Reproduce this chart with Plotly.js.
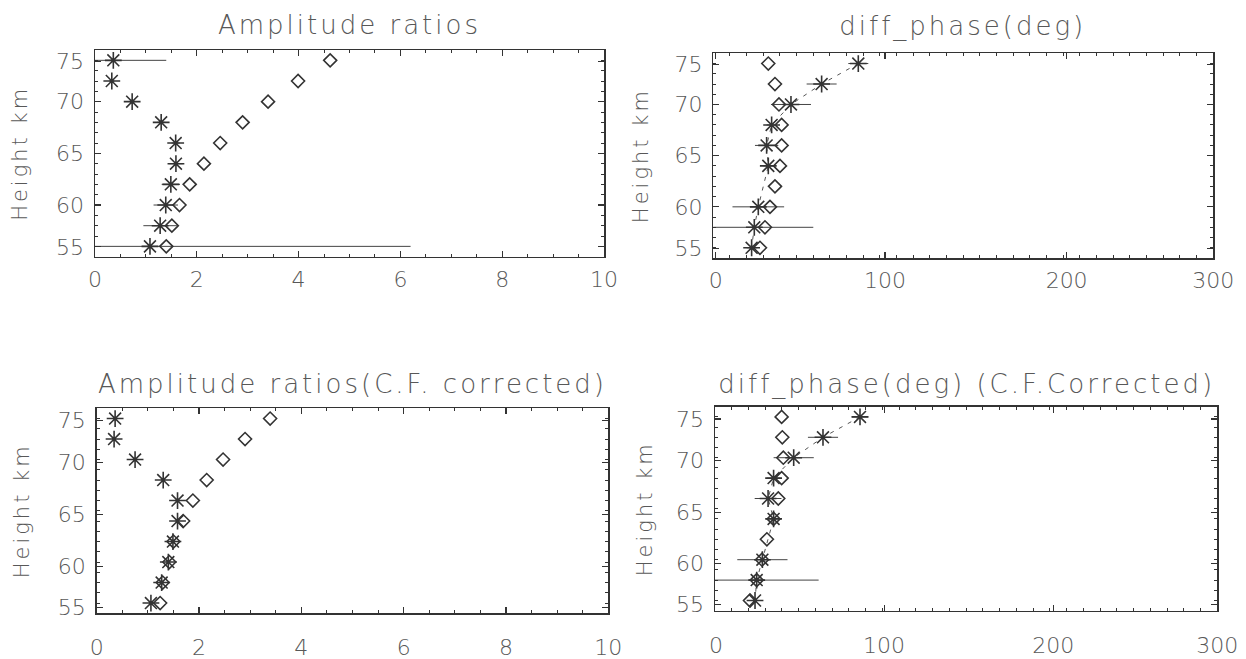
<!DOCTYPE html>
<html>
<head>
<meta charset="utf-8">
<script src="https://cdn.plot.ly/plotly-3.0.1.min.js"></script>
<style>
  html, body { margin: 0; padding: 0; background: #fff; }
  #chart { width: 1246px; height: 659px; }
</style>
</head>
<body>
<div id="chart"></div>
<script>
// ---------------- data ----------------
const heights = [74, 72, 70, 68, 66, 64, 62, 60, 58, 56];

// Amplitude ratios
const ampStar      = [0.36, 0.33, 0.73, 1.30, 1.585, 1.59, 1.49, 1.39, 1.28, 1.08];
const ampStarErr   = [1.04, 0.05, 0.05, 0.08, 0.08, 0.13, 0.18, 0.24, 0.33, 5.12];
const ampDiamond   = [4.62, 3.99, 3.40, 2.90, 2.46, 2.14, 1.86, 1.66, 1.51, 1.40];

// Amplitude ratios (C.F. corrected)
const ampCFStar    = [0.36, 0.34, 0.75, 1.30, 1.58, 1.58, 1.49, 1.40, 1.27, 1.06];
const ampCFDiamond = [3.39, 2.90, 2.47, 2.15, 1.88, 1.69, 1.50, 1.42, 1.29, 1.24];

// diff_phase(deg)
const phaseStar      = [87.0, 65.0, 46.6, 35.0, 32.0, 33.0, null, 27.0, 24.6, 23.0];
const phaseStarErr   = [6, 9, 12, 3, 7, 3, 0, 15.5, 35.4, 3];
const phaseDiamond   = [33.0, 37.0, 39.4, 41.0, 41.0, 40.0, 37.0, 34.0, 31.0, 28.0];

// diff_phase(deg) (C.F.Corrected)
const phaseCFStar    = [86.6, 64.5, 47.0, 35.0, 31.7, 35.0, null, 28.3, 24.9, 23.9];
const phaseCFStarErr = [5, 9, 12, 4, 8, 3, 0, 15, 37, 4];
const phaseCFDiamond = [39.8, 40.2, 40.8, 39.8, 37.8, 35.0, 31.0, 28.1, 24.9, 20.9];

// text
const panelTitles = ['Amplitude ratios', 'diff_phase(deg)',
                     'Amplitude ratios(C.F. corrected)', 'diff_phase(deg) (C.F.Corrected)'];
const yAxisTitle = 'Height km';

// tick labels
const yTickText      = ['55', '60', '65', '70', '75'];
const yTickPosTop    = [55.95, 60, 65, 70, 73.9];
const yTickPosBottom = [55.6, 59.6, 64.65, 69.75, 73.8];
const ampTickText    = ['0', '2', '4', '6', '8', '10'];
const ampTickPos     = [0, 2, 4, 6, 8, 10];
const phaseTickText  = ['0', '100', '200', '300'];
const phaseTickPosTop    = [1.5, 103, 212, 300];
const phaseTickPosBottom = [0.6, 101, 202, 300];

// ---------------- layout helpers ----------------
const W = 1246, H = 659;
const FONT = 'DejaVu Sans, Liberation Sans, sans-serif';
const TXT = '#585858';
const INK = '#333333';

function xdom(l, r) { return [l / W, r / W]; }
function ydom(t, b) { return [1 - b / H, 1 - t / H]; }

const boxes = [
  {l: 95,    r: 604,    t: 50,    b: 256.7},
  {l: 713.3, r: 1213.3, t: 53.3,  b: 258},
  {l: 96.7,  r: 608.3,  t: 408.3, b: 613.3},
  {l: 715,   r: 1217.3, t: 406.7, b: 610.7}
];

function xAxis(i, range, tickvals, ticktext, minorDtick, standoff) {
  const b = boxes[i];
  return {
    domain: xdom(b.l, b.r), range: range, anchor: 'y' + (i ? i + 1 : ''),
    tickmode: 'array', tickvals: tickvals, ticktext: ticktext,
    ticks: 'inside', ticklen: 6, tickwidth: 1.2, tickcolor: INK,
    minor: {ticks: 'inside', ticklen: 3, tickwidth: 1, tickcolor: INK, tickmode: 'linear', tick0: 0, dtick: minorDtick},
    showline: true, linecolor: INK, linewidth: 1.5, mirror: 'allticks',
    showgrid: false, zeroline: false, fixedrange: true,
    ticklabelstandoff: standoff,
    tickfont: {family: FONT, size: 22, color: TXT, weight: 200}
  };
}
function yAxis(i, tickvals) {
  const b = boxes[i];
  return {
    domain: ydom(b.t, b.b), range: [55, 75], anchor: 'x' + (i ? i + 1 : ''),
    tickmode: 'array', tickvals: tickvals, ticktext: yTickText,
    ticks: 'inside', ticklen: 6, tickwidth: 1.2, tickcolor: INK,
    minor: {ticks: 'inside', ticklen: 3, tickwidth: 1, tickcolor: INK, tickmode: 'linear', tick0: 55, dtick: 1},
    showline: true, linecolor: INK, linewidth: 1.5, mirror: 'allticks',
    showgrid: false, zeroline: false, fixedrange: true,
    ticklabelstandoff: 5,
    tickfont: {family: FONT, size: 22, color: TXT, weight: 200}
  };
}

function starTrace(i, xs, errs, withLine) {
  const t = {
    type: 'scatter', x: xs, y: heights,
    xaxis: 'x' + (i ? i + 1 : ''), yaxis: 'y' + (i ? i + 1 : ''),
    mode: withLine ? 'lines+markers' : 'markers',
    connectgaps: true,
    line: {color: '#555', width: 1, dash: '4px,6px'},
    marker: {symbol: 'asterisk-open', size: 14, color: INK, line: {color: INK, width: 1.6}},
    showlegend: false, hoverinfo: 'x+y'
  };
  if (errs) t.error_x = {type: 'data', array: errs, visible: true, color: '#444', thickness: 1, width: 0};
  return t;
}
function diamondTrace(i, xs) {
  return {
    type: 'scatter', x: xs, y: heights,
    xaxis: 'x' + (i ? i + 1 : ''), yaxis: 'y' + (i ? i + 1 : ''),
    mode: 'markers',
    marker: {symbol: 'diamond-open', size: 10, color: INK, line: {color: INK, width: 1.6}},
    showlegend: false, hoverinfo: 'x+y'
  };
}

const data = [
  starTrace(0, ampStar, ampStarErr, false),   diamondTrace(0, ampDiamond),
  starTrace(1, phaseStar, phaseStarErr, true), diamondTrace(1, phaseDiamond),
  starTrace(2, ampCFStar, null, false),       diamondTrace(2, ampCFDiamond),
  starTrace(3, phaseCFStar, phaseCFStarErr, true), diamondTrace(3, phaseCFDiamond)
];

// titles & y-axis titles as annotations
const titleY = [25, 27, 384, 384];
const yTitleX = [20, 641, 22, 645];
const annotations = [];
boxes.forEach((b, i) => {
  annotations.push({
    xref: 'paper', yref: 'paper',
    x: ((b.l + b.r) / 2) / W, y: 1 - titleY[i] / H,
    xanchor: 'center', yanchor: 'middle', showarrow: false,
    text: panelTitles[i],
    font: {family: FONT, size: 26, color: TXT, weight: 200}
  });
  annotations.push({
    xref: 'paper', yref: 'paper',
    x: yTitleX[i] / W, y: 1 - ((b.t + b.b) / 2) / H,
    xanchor: 'center', yanchor: 'middle', showarrow: false, textangle: -90,
    text: yAxisTitle,
    font: {family: FONT, size: 21, color: TXT, weight: 200}
  });
});

const layout = {
  width: W, height: H,
  margin: {l: 0, r: 0, t: 0, b: 0},
  paper_bgcolor: '#ffffff', plot_bgcolor: '#ffffff',
  showlegend: false,
  xaxis:  xAxis(0, [0, 10],  ampTickPos, ampTickText, 0.5, 2),
  xaxis2: xAxis(1, [0, 300], phaseTickPosTop, phaseTickText, 10, 2),
  xaxis3: xAxis(2, [0, 10],  ampTickPos, ampTickText, 0.5, 14),
  xaxis4: xAxis(3, [0, 300], phaseTickPosBottom, phaseTickText, 10, 14),
  yaxis:  yAxis(0, yTickPosTop),
  yaxis2: yAxis(1, yTickPosTop),
  yaxis3: yAxis(2, yTickPosBottom),
  yaxis4: yAxis(3, yTickPosBottom),
  annotations: annotations
};

Plotly.newPlot('chart', data, layout, {staticPlot: true, displayModeBar: false}).then(() => {
  document.querySelectorAll('.annotation-text').forEach(el => { el.style.letterSpacing = '3px'; });
});
</script>
</body>
</html>
